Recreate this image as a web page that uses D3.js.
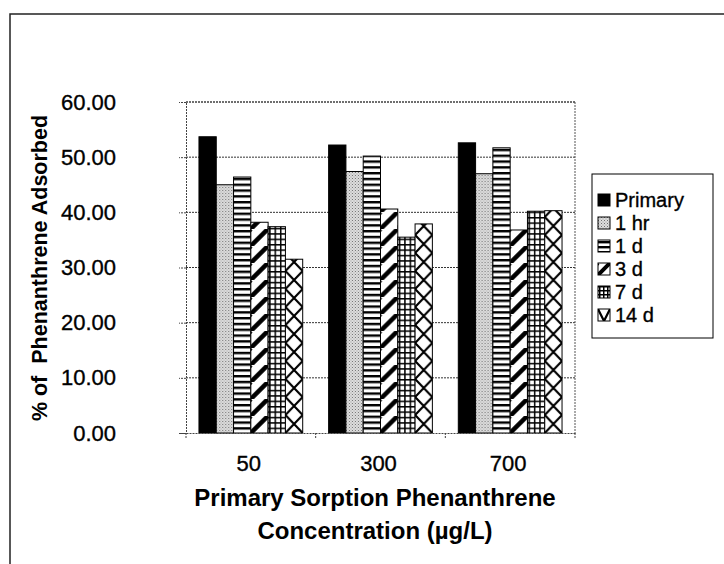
<!DOCTYPE html>
<html>
<head>
<meta charset="utf-8">
<script src="https://cdn.jsdelivr.net/npm/d3@7"></script>
<style>
  html, body { margin: 0; padding: 0; background: #fff; }
  svg { display: block; }
  text { font-family: "Liberation Sans", Arial, Helvetica, sans-serif; fill: #000; }
  .reg { stroke: #000; stroke-width: 0.35px; }
</style>
</head>
<body>
<svg id="chart" width="724" height="564"></svg>
<script>
const categories = ["50", "300", "700"];
const seriesNames = ["Primary", "1 hr", "1 d", "3 d", "7 d", "14 d"];
const primary = [53.7, 52.2, 52.6];
const oneHr   = [45.0, 47.4, 47.0];
const oneD    = [46.4, 50.2, 51.7];
const threeD  = [38.2, 40.6, 36.8];
const sevenD  = [37.4, 35.5, 40.2];
const fourteenD = [31.5, 37.9, 40.3];
const seriesValues = [primary, oneHr, oneD, threeD, sevenD, fourteenD];
const yTicks = [0, 10, 20, 30, 40, 50, 60];
const yTitle = "% of  Phenanthrene Adsorbed";
const xTitle = ["Primary Sorption Phenanthrene", "Concentration (\u00b5g/L)"];

const svg = d3.select("#chart");
const defs = svg.append("defs");
const plot = { left: 186, right: 575, top: 102, bottom: 433 };

const x0 = d3.scaleBand().domain(categories).range([plot.left, plot.right]).paddingInner(0).paddingOuter(0);
const x1 = d3.scaleBand().domain(seriesNames).range([0, x0.bandwidth()]).paddingInner(0).paddingOuter(0.75);
const y = d3.scaleLinear().domain([0, 60]).range([plot.bottom, plot.top]);

function makePattern(id, si, ox, oy, small) {
  const bw = small ? 12 : x1.bandwidth();
  let p;
  if (si === 0) {
    p = defs.append("pattern").attr("id", id).attr("patternUnits", "userSpaceOnUse")
      .attr("width", 4).attr("height", 4);
    p.append("rect").attr("width", 4).attr("height", 4).attr("fill", "#000");
  } else if (si === 1) {
    p = defs.append("pattern").attr("id", id).attr("patternUnits", "userSpaceOnUse")
      .attr("width", 3).attr("height", 3).attr("x", ox).attr("y", oy);
    p.append("rect").attr("width", 3).attr("height", 3).attr("fill", "#dedede");
    p.append("rect").attr("x", 0).attr("y", 0).attr("width", 1).attr("height", 1).attr("fill", "#707070");
    p.append("rect").attr("x", 1.5).attr("y", 1.5).attr("width", 1).attr("height", 1).attr("fill", "#999");
  } else if (si === 2) {
    const s = small ? 5 : 5.8;
    p = defs.append("pattern").attr("id", id).attr("patternUnits", "userSpaceOnUse")
      .attr("width", 6).attr("height", s).attr("x", ox).attr("y", oy + (small ? 1 : 0));
    p.append("rect").attr("width", 6).attr("height", s).attr("fill", "#fff");
    p.append("rect").attr("x", 0).attr("y", 0).attr("width", 6).attr("height", 2.4).attr("fill", "#000");
  } else if (si === 3) {
    const s = small ? 12 : 17;
    const sw = small ? 4 : 4.5;
    p = defs.append("pattern").attr("id", id).attr("patternUnits", "userSpaceOnUse")
      .attr("width", s).attr("height", s).attr("x", ox).attr("y", oy);
    p.append("rect").attr("width", s).attr("height", s).attr("fill", "#fff");
    p.append("path").attr("d", `M0,${s} L${s},0 M${-s},${s} L0,0 M${s},${2*s} L${2*s},${s}`)
      .attr("stroke", "#000").attr("stroke-width", sw);
  } else if (si === 4) {
    const s = small ? 4 : 5.4;
    p = defs.append("pattern").attr("id", id).attr("patternUnits", "userSpaceOnUse")
      .attr("width", s).attr("height", s).attr("x", ox + 1).attr("y", oy);
    p.append("rect").attr("width", s).attr("height", s).attr("fill", "#fff");
    p.append("rect").attr("x", 0).attr("y", 0).attr("width", 1.5).attr("height", s).attr("fill", "#000");
    p.append("rect").attr("x", 0).attr("y", 0).attr("width", s).attr("height", 1.5).attr("fill", "#000");
  } else {
    const w = bw, h = small ? 24 : 18;
    p = defs.append("pattern").attr("id", id).attr("patternUnits", "userSpaceOnUse")
      .attr("width", w).attr("height", h).attr("x", ox).attr("y", oy);
    p.append("rect").attr("width", w).attr("height", h).attr("fill", "#fff");
    p.append("path")
      .attr("d", `M0,0 L${w},${h} M${w},0 L0,${h}`)
      .attr("stroke", "#000").attr("stroke-width", 2.2).attr("fill", "none");
  }
  return `url(#${id})`;
}

// outer frame
svg.append("path").attr("d", "M10,564 L10,14 L724,14")
  .attr("fill", "none").attr("stroke", "#222").attr("stroke-width", 1.5);

// grid lines
const gridG = svg.append("g");
yTicks.filter(t => t > 0).forEach(t => {
  gridG.append("line")
    .attr("x1", plot.left).attr("x2", plot.right)
    .attr("y1", y(t)).attr("y2", y(t))
    .attr("stroke", "#333").attr("stroke-width", 1).attr("stroke-dasharray", "2,1");
});
svg.append("line").attr("x1", plot.right).attr("x2", plot.right)
  .attr("y1", plot.top).attr("y2", plot.bottom)
  .attr("stroke", "#555").attr("stroke-width", 1).attr("stroke-dasharray", "2,1");

// bars
const barsG = svg.append("g");
categories.forEach((c, ci) => {
  seriesNames.forEach((s, si) => {
    const bx = x0(c) + x1(s);
    const v = seriesValues[si][ci];
    const fill = makePattern(`p${si}_${ci}`, si, bx, plot.bottom, false);
    barsG.append("rect")
      .attr("x", bx).attr("y", y(v))
      .attr("width", x1.bandwidth()).attr("height", plot.bottom - y(v))
      .attr("fill", fill).attr("stroke", "#000").attr("stroke-width", 1);
  });
});

// y axis
const yAxis = d3.axisLeft(y).tickValues(yTicks).tickSize(7).tickPadding(63)
  .tickFormat(d3.format(".2f"));
const yg = svg.append("g").attr("transform", `translate(${plot.left},0)`).call(yAxis);
yg.select(".domain").attr("stroke", "#444").attr("stroke-dasharray", "2,1");
yg.selectAll(".tick line").attr("stroke", "#444").attr("stroke-dasharray", "2,1");
yg.selectAll(".tick text").attr("class", "reg").style("font-size", "22px")
  .attr("font-family", "Liberation Sans, Arial, sans-serif");

// x axis
const xAxis = d3.axisBottom(x0).tickSize(0).tickPadding(22);
const xg = svg.append("g").attr("transform", `translate(0,${plot.bottom})`).call(xAxis);
xg.select(".domain").attr("stroke", "#444").attr("stroke-dasharray", "2,1");
xg.selectAll(".tick text").attr("class", "reg").style("font-size", "22px")
  .attr("font-family", "Liberation Sans, Arial, sans-serif").attr("dx", -2);
const bounds = categories.map(c => x0(c)).concat([plot.right]);
bounds.forEach(bx => {
  xg.append("line").attr("x1", bx).attr("x2", bx).attr("y1", 0).attr("y2", 6)
    .attr("stroke", "#444").attr("stroke-dasharray", "2,1");
});
svg.append("line").attr("x1", plot.left).attr("x2", plot.right)
  .attr("y1", plot.top).attr("y2", plot.top)
  .attr("stroke", "#444").attr("stroke-width", 1).attr("stroke-dasharray", "2,1");

// axis titles
svg.append("text")
  .attr("transform", `translate(47,268) rotate(-90)`)
  .attr("text-anchor", "middle")
  .style("font-size", "21.5px").style("font-weight", "bold")
  .style("white-space", "pre")
  .text(yTitle);
xTitle.forEach((t, i) => {
  svg.append("text")
    .attr("x", 375).attr("y", 506 + i * 33)
    .attr("text-anchor", "middle")
    .style("font-size", "24px").style("font-weight", "bold")
    .text(t);
});

// legend
const lg = svg.append("g");
lg.append("rect").attr("x", 592).attr("y", 174).attr("width", 121).attr("height", 164)
  .attr("fill", "#fff").attr("stroke", "#000").attr("stroke-width", 1);
seriesNames.forEach((s, si) => {
  const cy = 200 + si * 23;
  const fill = makePattern(`lp${si}`, si, 598, cy - 6, true);
  lg.append("rect").attr("x", 598).attr("y", cy - 6).attr("width", 12).attr("height", 12)
    .attr("fill", fill).attr("stroke", "#000").attr("stroke-width", 1);
  lg.append("text").attr("class", "reg").attr("x", 615).attr("y", cy + 7)
    .style("font-size", "20px").text(s);
});
</script>
</body>
</html>
